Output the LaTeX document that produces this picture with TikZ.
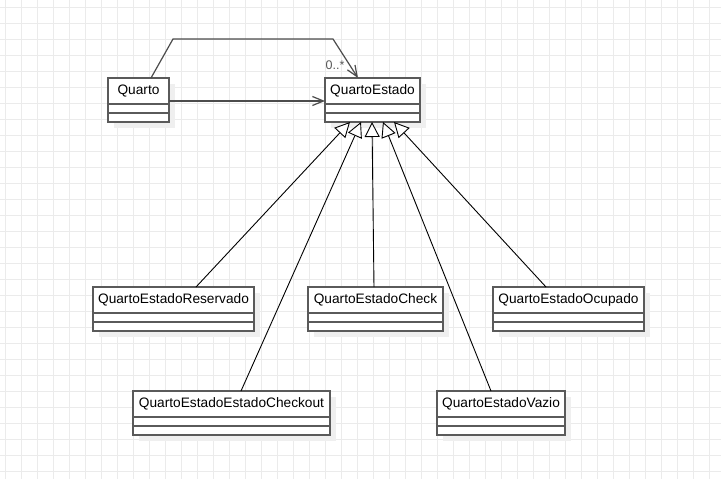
\documentclass[tikz,border=0pt]{standalone}
\usepackage{fontspec}
\setmainfont{Liberation Sans}
\usetikzlibrary{arrows.meta,calc}
\definecolor{gridc}{HTML}{EBEBEB}
\definecolor{borderc}{HTML}{5A5A5A}
\definecolor{shadowc}{HTML}{EFEFEF}
\tikzset{
  cls/.style={draw=borderc, line width=1.6pt, minimum height=44pt, inner sep=0pt, outer sep=0pt},
  clsline/.style={draw=borderc, line width=1.6pt},
  lbl/.style={font=\fontsize{13.7}{16}\selectfont, inner sep=0pt, text=black},
  assoc/.style={draw=borderc!85!black, line width=1.2pt, -{Straight Barb[length=11pt,width=9pt,line width=1.2pt]}},
  inherit/.style={draw=black, line width=0.9pt, -{Triangle[open,length=15pt,width=15pt,line width=0.9pt,fill=white]}},
  multlbl/.style={font=\fontsize{12.5}{14}\selectfont, text=black!65, inner sep=0pt}
}
\newcommand\umlcls[5]{%
  \fill[shadowc] (#2+6,#3+6) rectangle ++(#4,44);
  \node[cls, minimum width=#4pt, anchor=north west, fill=white] (#1) at (#2,#3) {};
  \node[lbl] (#1-t) at ($(#1.north)+(0,13)$) {#5};
  \draw[clsline] ($(#1.north west)+(0,26)$) -- ($(#1.north east)+(0,26)$);
  \draw[clsline] ($(#1.north west)+(0,35)$) -- ($(#1.north east)+(0,35)$);
}
\begin{document}
\begin{tikzpicture}[x=1pt,y=-1pt]
\useasboundingbox (0,0) rectangle (721,479);
\fill[white] (0,0) rectangle (721,479);
\foreach \gx in {5,21,...,720} \draw[gridc, line width=1pt] (\gx,0) -- (\gx,479);
\foreach \gy in {7,23,...,478} \draw[gridc, line width=1pt] (0,\gy) -- (721,\gy);

\umlcls{q}{108}{78}{61}{Quarto}
\umlcls{qe}{325}{78}{95}{QuartoEstado}
\umlcls{res}{93}{287}{161}{QuartoEstadoReservado}
\umlcls{chk}{308}{287}{135}{QuartoEstadoCheck}
\umlcls{ocu}{493}{287}{151}{QuartoEstadoOcupado}
\umlcls{cko}{133}{391}{197}{QuartoEstadoEstadoCheckout}
\umlcls{vaz}{437}{391}{128}{QuartoEstadoVazio}

% associations
\draw[assoc] ($(q.north east)+(0,23)$) -- ($(qe.north west)+(0,23)$);
\coordinate (b1) at (173,39);
\coordinate (b2) at (333,39);
\draw[assoc] ($(q.north west)+(43,0)$) -- (b1) -- (b2) -- ($(qe.north west)+(33,0)$);
\node[multlbl] (mult) at (335,65) {0..*};

% generalizations
\draw[inherit] ($(res.north west)+(103,0)$) -- ($(qe.south west)+(25,0)$);
\draw[inherit] ($(cko.north west)+(108,0)$) -- ($(qe.south west)+(36,0)$);
\draw[inherit] ($(chk.north west)+(66,0)$) -- ($(qe.south west)+(47,0)$);
\draw[inherit] ($(vaz.north west)+(54,0)$) -- ($(qe.south west)+(58,0)$);
\draw[inherit] ($(ocu.north west)+(53,0)$) -- ($(qe.south west)+(69,0)$);
\end{tikzpicture}
\end{document}
